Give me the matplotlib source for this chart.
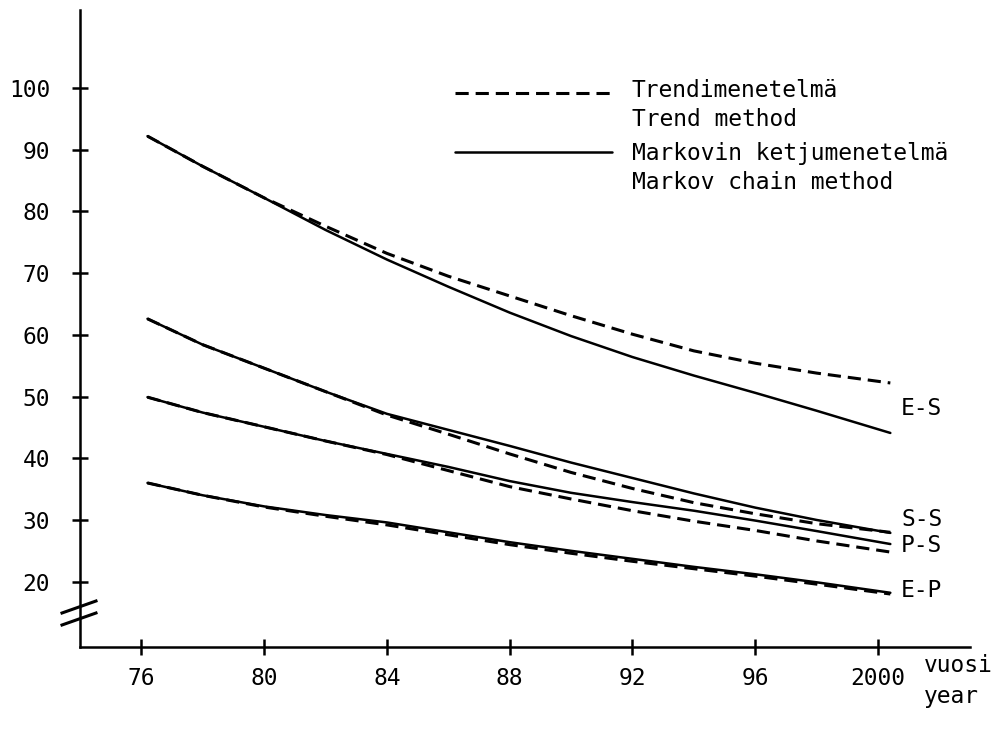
import matplotlib
matplotlib.use("Agg")
import matplotlib.pyplot as plt
from matplotlib.lines import Line2D

plt.rcParams['font.family'] = ['DejaVu Sans Mono', 'DejaVu Sans']
plt.rcParams['lines.scale_dashes'] = False

# years (76.2 = first plotted point, 100.4 = last)
years = [76.2, 78, 80, 82, 84, 86, 88, 90, 92, 94, 96, 98, 100.4]

es_markov = [92.2, 87.3, 82.2, 77.0, 72.2, 67.8, 63.6, 59.8, 56.4, 53.4, 50.6, 47.7, 44.1]
es_trend = [92.2, 87.3, 82.2, 77.6, 73.2, 69.5, 66.3, 63.1, 60.1, 57.4, 55.4, 53.8, 52.2]
ss_markov = [62.6, 58.4, 54.6, 50.8, 47.2, 44.6, 42.0, 39.3, 36.8, 34.3, 32.0, 30.0, 27.9]
ss_trend = [62.6, 58.4, 54.6, 50.8, 47.0, 43.9, 40.7, 37.7, 35.1, 32.8, 31.0, 29.4, 28.0]
ps_markov = [49.9, 47.4, 45.1, 42.8, 40.7, 38.6, 36.3, 34.4, 32.9, 31.5, 29.9, 28.2, 26.1]
ps_trend = [49.9, 47.4, 45.1, 42.8, 40.6, 38.0, 35.4, 33.4, 31.5, 29.8, 28.3, 26.6, 24.8]
ep_markov = [36.0, 34.0, 32.2, 30.8, 29.6, 28.0, 26.4, 25.0, 23.7, 22.4, 21.2, 19.9, 18.2]
ep_trend = [36.0, 34.0, 32.1, 30.6, 29.2, 27.6, 26.0, 24.6, 23.3, 22.1, 20.9, 19.6, 18.0]

curve_labels = ['E-S', 'S-S', 'P-S', 'E-P']
label_y = [48.1, 30.1, 25.8, 18.6]

xticks = [76, 80, 84, 88, 92, 96, 100]
xtick_labels = ['76', '80', '84', '88', '92', '96', '2000']
yticks = [20, 30, 40, 50, 60, 70, 80, 90, 100]

fig = plt.figure(figsize=(10.07, 7.32), dpi=100)
ax = fig.add_axes([0.0794, 0.116, 0.884, 0.870])

solid = dict(color='black', linewidth=1.8, solid_capstyle='round', solid_joinstyle='round')
dashed = dict(color='black', linewidth=2.2, dashes=(9.5, 5.0))

for trend in [es_trend, ss_trend, ps_trend, ep_trend]:
    ax.plot(years, trend, **dashed)
for markov in [es_markov, ss_markov, ps_markov, ep_markov]:
    ax.plot(years, markov, **solid)

for lab, yy in zip(curve_labels, label_y):
    ax.text(100.75, yy, lab, fontsize=16.5, va='center', ha='left')

ax.set_xlim(74, 103)
ax.set_ylim(9.4, 112.6)
ax.set_xticks(xticks)
ax.set_xticklabels(xtick_labels)
ax.set_yticks(yticks)
for side in ['top', 'right']:
    ax.spines[side].set_visible(False)
for side in ['left', 'bottom']:
    ax.spines[side].set_linewidth(1.8)
ax.tick_params(axis='x', direction='inout', length=11, width=1.8, labelsize=16.5, pad=9)
ax.tick_params(axis='y', direction='inout', length=11, width=1.8, labelsize=16.5, pad=16)

# axis break marks on the y axis
for yb in [607, 619]:
    yf = 1 - yb / 732
    fig.add_artist(Line2D([62 / 1007, 96 / 1007], [yf - 6 / 732, yf + 6 / 732],
                          color='black', linewidth=2.2))

# axis title at the end of the x axis
fig.text(924 / 1007, 1 - 681 / 732, 'vuosi\nyear', fontsize=16.5, ha='left', va='center',
         linespacing=1.5)

# hand-drawn style legend
leg_x0, leg_x1 = 455 / 1007, 612 / 1007
fig.add_artist(Line2D([leg_x0, leg_x1], [1 - 93 / 732] * 2, **dashed))
fig.add_artist(Line2D([leg_x0, leg_x1], [1 - 152 / 732] * 2, **solid))
fig.text(632 / 1007, 1 - 105 / 732, 'Trendimenetelmä\nTrend method', fontsize=16.5,
         ha='left', va='center', linespacing=1.35)
fig.text(632 / 1007, 1 - 168 / 732, 'Markovin ketjumenetelmä\nMarkov chain method',
         fontsize=16.5, ha='left', va='center', linespacing=1.35)

fig.savefig('out.png', dpi=100)
